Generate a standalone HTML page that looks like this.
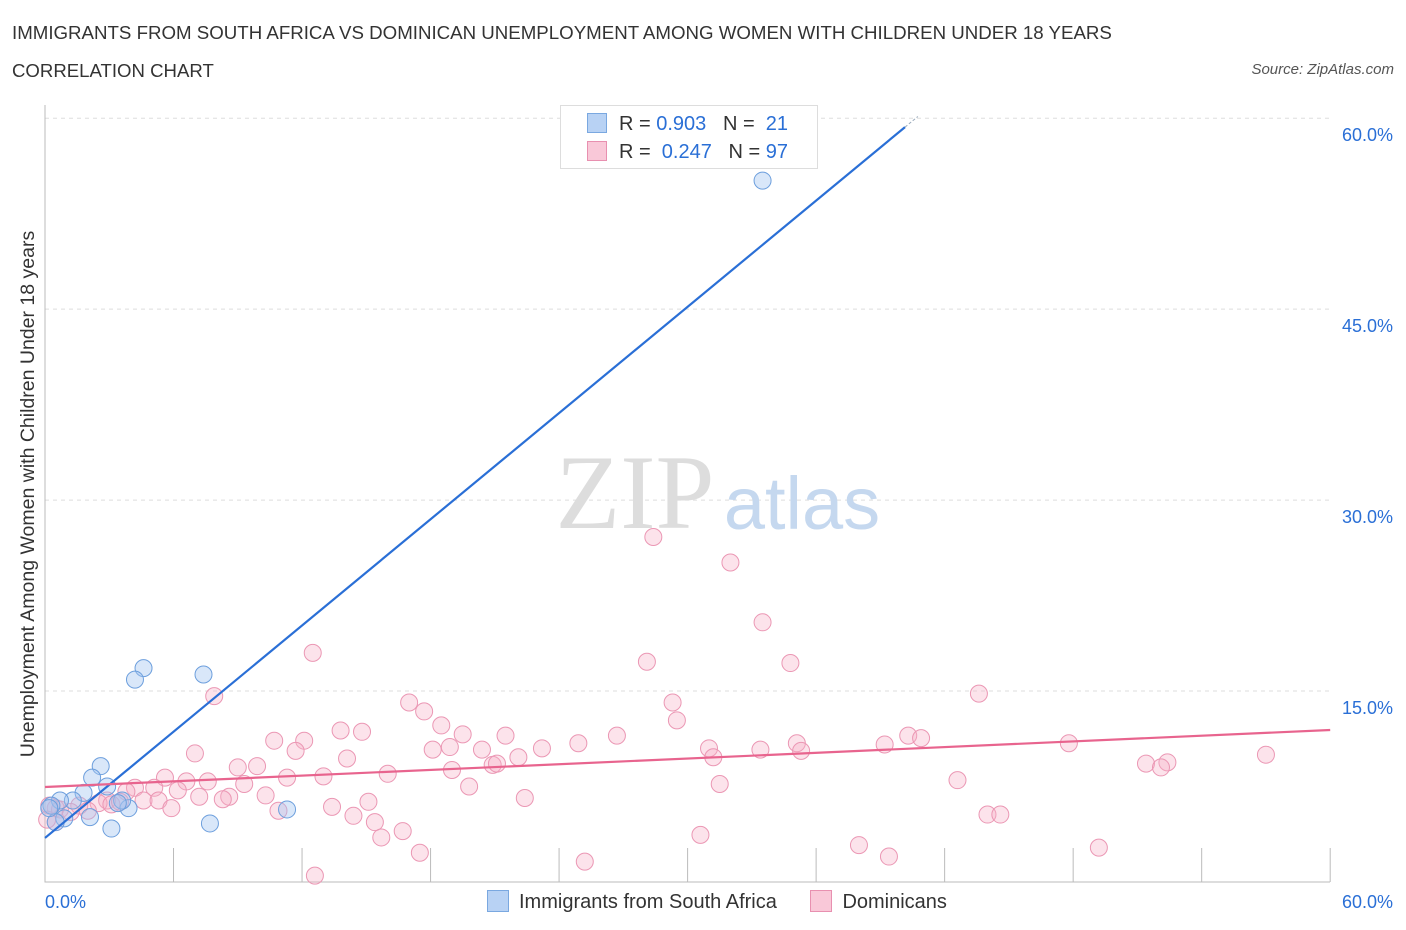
<!DOCTYPE html>
<html><head><meta charset="utf-8"><style>
body{margin:0;background:#fff;font-family:"Liberation Sans",sans-serif;}
#c{position:absolute;left:0;top:0;}
</style></head><body>
<div style="position:absolute;left:12px;top:22px;font-size:18.7px;color:#333;white-space:nowrap;">IMMIGRANTS FROM SOUTH AFRICA VS DOMINICAN UNEMPLOYMENT AMONG WOMEN WITH CHILDREN UNDER 18 YEARS</div>
<div style="position:absolute;left:12px;top:60px;font-size:18.6px;color:#333;">CORRELATION CHART</div>
<div style="position:absolute;right:12px;top:61px;font-size:15px;color:#555;font-style:italic;">Source: ZipAtlas.com</div>
<svg id="c" width="1406" height="930">
<g id="grid"></g>
<text x="635" y="528" font-family="Liberation Serif,serif" font-size="106" fill="#ddd" text-anchor="middle">ZIP</text>
<text x="802" y="529" font-size="74" fill="#c5d8ef" text-anchor="middle">atlas</text>
<g id="pts"></g>
<g id="lines"></g>
<text transform="translate(34,494) rotate(-90)" font-size="19.5" fill="#333" text-anchor="middle">Unemployment Among Women with Children Under 18 years</text>
</svg>
<div style="position:absolute;left:560px;top:105px;width:256px;height:62px;border:1px solid #ddd;background:#fff;font-size:20px;color:#333;">
 <div style="position:absolute;left:26px;top:7px;white-space:nowrap;"><span style="display:inline-block;width:18px;height:18px;background:#b8d2f4;border:1px solid #7aa8e0;vertical-align:-3px;margin-right:12px;"></span>R = <span style="color:#2a6fd6">0.903</span>&nbsp;&nbsp;&nbsp;N = &nbsp;<span style="color:#2a6fd6">21</span></div>
 <div style="position:absolute;left:26px;top:35px;white-space:nowrap;"><span style="display:inline-block;width:18px;height:18px;background:#f9c8d8;border:1px solid #e890b0;vertical-align:-3px;margin-right:12px;"></span>R = &nbsp;<span style="color:#2a6fd6">0.247</span>&nbsp;&nbsp;&nbsp;N = <span style="color:#2a6fd6">97</span></div>
</div>
<div style="position:absolute;left:487px;top:890px;font-size:20px;color:#333;white-space:nowrap;">
 <span><span style="display:inline-block;width:20px;height:20px;background:#b8d2f4;border:1px solid #7aa8e0;vertical-align:-4px;margin-right:10px;"></span>Immigrants from South Africa</span>
 <span style="margin-left:28px;"><span style="display:inline-block;width:20px;height:20px;background:#f9c8d8;border:1px solid #e890b0;vertical-align:-4px;margin-right:10px;"></span>Dominicans</span>
</div>
<script>
const blueX=[33.5,4.6,4.2,7.4,2.6,2.2,1.8,1.3,0.7,0.3,0.9,2.1,3.1,3.9,3.6,3.4,11.3,7.7,0.5,0.2,2.9];
const blueY=[55.1,16.8,15.9,16.3,9.1,8.2,7.0,6.4,6.4,6.0,5.0,5.1,4.2,5.8,6.4,6.2,5.7,4.6,4.7,5.8,7.5];
const pinkX=[28.4,32.0,33.5,12.5,28.1,34.8,7.9,43.6,29.3,17.0,17.7,29.5,13.8,14.8,21.5,26.7,19.5,18.5,40.3,40.9,35.1,10.7,12.1,24.9,23.2,39.2,47.8,31.0,35.3,33.4,18.1,18.9,11.7,20.4,57.0,7.0,14.1,22.1,31.2,9.0,9.9,51.4,52.4,52.1,20.9,21.1,19.0,16.0,13.0,5.6,11.3,6.6,7.6,9.3,42.6,31.5,19.8,4.2,5.1,6.2,3.8,2.9,10.3,7.2,8.6,8.3,4.6,5.3,22.4,15.1,1.6,2.5,3.1,3.5,13.4,5.9,10.9,0.5,2.0,44.0,44.6,14.4,15.4,16.7,15.7,30.6,38.0,49.2,39.4,17.5,25.2,12.6,0.2,0.7,1.2,0.5,0.1];
const pinkY=[27.1,25.1,20.4,18.0,17.3,17.2,14.6,14.8,14.1,14.1,13.4,12.7,11.9,11.8,11.5,11.5,11.6,12.3,11.5,11.3,10.9,11.1,11.1,10.9,10.5,10.8,10.9,10.5,10.3,10.4,10.4,10.6,10.3,10.4,10.0,10.1,9.7,9.8,9.8,9.0,9.1,9.3,9.4,9.0,9.2,9.3,8.8,8.5,8.3,8.2,8.2,7.9,7.9,7.7,8.0,7.7,7.5,7.4,7.4,7.2,7.1,6.4,6.8,6.7,6.7,6.5,6.4,6.4,6.6,6.3,6.0,6.2,6.1,6.3,5.9,5.8,5.6,5.8,5.6,5.3,5.3,5.2,4.7,4.0,3.5,3.7,2.9,2.7,2.0,2.3,1.6,0.5,6.0,5.7,5.5,4.7,4.9];
const blueTrend=[[0,3.46],[40.15,59.3]];
const pinkTrend=[[0,7.46],[60,11.94]];
const yTicks=[15,30,45,60];
const xTicks=[0,6,12,18,24,30,36,42,48,54,60];
const sx=v=>45+v*21.42, sy=v=>882-v*12.73;
const NS='http://www.w3.org/2000/svg';
function mk(tag,attrs,parent){const e=document.createElementNS(NS,tag);for(const k in attrs)e.setAttribute(k,attrs[k]);parent.appendChild(e);return e;}
const grid=document.getElementById('grid');
yTicks.forEach(t=>{
 const l=mk('line',{x1:45,x2:1330,y1:sy(t),y2:sy(t),stroke:'#ddd','stroke-dasharray':'4,4'},grid);
 
 
 const tx=mk('text',{x:1393,y:sy(t)+23,'font-size':18,fill:'#2a6fd6','text-anchor':'end'},grid);
 tx.textContent=t.toFixed(1)+'%';
 
 
});
const ax=mk('path',{d:'M45 105 V882 H1330',stroke:'#bbb',fill:'none'},grid);


xTicks.forEach(t=>{
 const l=mk('line',{x1:sx(t),x2:sx(t),y1:848,y2:882,stroke:'#bbb'},grid);
 
 
});
[[0,'start',45],[60,'end',1393]].forEach(([t,a,x])=>{
 const tx=mk('text',{x:x,y:908,'font-size':18,fill:'#2a6fd6','text-anchor':a},grid);
 tx.textContent=t.toFixed(1)+'%';
 
 
});
const pts=document.getElementById('pts');
pinkX.forEach((v,i)=>{
 const c=mk('circle',{cx:sx(v),cy:sy(pinkY[i]),r:8.5,fill:'rgba(246,176,198,0.35)',stroke:'#eb97b4','stroke-width':1},pts);
 
 
});
blueX.forEach((v,i)=>{
 const c=mk('circle',{cx:sx(v),cy:sy(blueY[i]),r:8.5,fill:'rgba(160,196,240,0.4)',stroke:'#6d9fdd','stroke-width':1},pts);
 
 
});
const lines=document.getElementById('lines');
const bl=mk('line',{x1:sx(blueTrend[0][0]),y1:sy(blueTrend[0][1]),x2:sx(blueTrend[1][0]),y2:sy(blueTrend[1][1]),stroke:'#2a6fd6','stroke-width':2.2},lines);


const slope=(blueTrend[1][1]-blueTrend[0][1])/(blueTrend[1][0]-blueTrend[0][0]);
const bd=mk('line',{x1:sx(blueTrend[1][0]),y1:sy(blueTrend[1][1]),x2:sx(blueTrend[1][0]+0.6),y2:sy(blueTrend[1][1]+slope*0.6),stroke:'#9ab','stroke-width':1,'stroke-dasharray':'3,2'},lines);


const pl=mk('line',{x1:sx(pinkTrend[0][0]),y1:sy(pinkTrend[0][1]),x2:sx(pinkTrend[1][0]),y2:sy(pinkTrend[1][1]),stroke:'#e8648e','stroke-width':2.2},lines);


</script>
</body></html>
